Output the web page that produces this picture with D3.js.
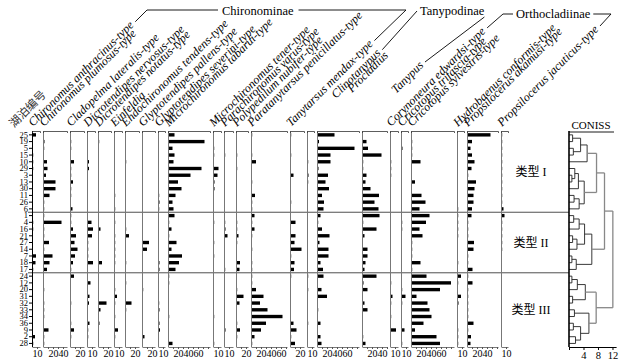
<!DOCTYPE html>
<html><head><meta charset="utf-8">
<script src="https://cdn.jsdelivr.net/npm/d3@7"></script>
<style>body{margin:0;background:#fff}svg{display:block}</style>
</head><body><svg id="c" width="635" height="364"></svg>
<script>
// ---------------- DATA ----------------
const lakes = ["25","19","5","15","10","29","3","13","30","11","26","6",
  "1","4","16","21","27","14","7","18","17",
  "24","12","20","31","32","33","34","36","9","2","28"];
const taxa = ["Chironomus anthracinus-type","Chironomus plumosus-type","Cladopelma lateralis-type",
  "Dicrotendipes nervosus-type","Dicrotendipes notatus-type","Einfeldia","Endochironomus tendens-type",
  "Glyptotendipes pallens-type","Glyptotendipes severini-type","Microchironomus tabarui-type",
  "Microchironomus tener-type","Parachironomus varus-type","Polypedilum nubifer-type",
  "Paratanytarsus penicillatus-type","Tanytarsus mendax-type","Clinotanypus","Procladius","Tanypus",
  "Corynoneura edwardsi-type","Cricotopus trifascia-type","Cricotopus sylvestris-type",
  "Hydrobaenus conformis-type","Propsilocerus akamusi-type","Propsilocerus jacuticus-type"];
const axisMax = [16,48,28,16,26,16,28,26,14,84,16,18,24,72,28,14,84,50,16,14,86,14,62,14];
const tickLabels = [[10],[20,40],[20],[10],[20],[10],[20],[20],[10],[20,40,60],[10],[10],[20],
  [20,40,60],[20],[10],[20,40,60],[20,40],[10],[10],[20,40,60],[10],[20,40],[10]];
const groups = [{name:"Chironominae",first:0,last:14},{name:"Tanypodinae",first:15,last:17},{name:"Orthocladiinae",first:18,last:23}];
const typeNames = ["类型 I","类型 II","类型 III"];
const typeStarts = [0,12,21];
const conissTicks = [0,4,8,12];

// relative abundance (%) per taxon, one value per lake (rows top to bottom)
const cAnthracinus = [8,0,0,1,2,2,0,0,0,0,0,0, 0,2,1,0,0,0,8,7,2, 0,0,0,0,0,0,0,0,0,6,1];
const cPlumosus    = [0,3,2,0,8,9,6,25,25,13,2,2, 1,37,2,2,12,2,19,13,8, 0,0,1,0,2,2,2,0,11,2,2];
const cladopelma   = [0,2,2,0,8,2,2,6,2,2,0,5, 2,2,6,12,9,15,10,6,2, 8,0,0,0,2,0,0,2,8,2,0];
const dNervosus    = [0,0,0,0,4,4,0,0,0,0,0,0, 0,9,12,10,2,2,2,12,0, 0,7,0,5,4,0,0,5,2,2,0];
const dNotatus     = [0,2,0,0,0,0,0,0,0,0,0,0, 0,0,5,0,0,0,0,8,0, 0,0,0,0,17,5,0,3,0,0,0];
const einfeldia    = [0,0,0,0,0,0,0,0,0,1,0,1, 0,1,0,1,1,1,1,1,0, 0,0,2,6,2,0,1,0,8,2,0];
const endochiro    = [0,0,0,0,2,0,0,0,0,0,0,0, 0,0,2,8,0,0,0,2,0, 0,2,0,0,13,2,0,0,0,0,0];
const gPallens     = [0,0,0,0,0,0,0,0,0,0,0,0, 0,0,0,0,14,10,0,0,0, 0,0,1,0,0,0,0,0,0,5,0];
const gSeverini    = [0,0,0,0,0,0,0,0,0,2,3,2, 0,0,0,0,0,0,0,3,3, 0,0,0,0,2,3,0,3,4,0,0];
const mTabarui     = [13,73,9,13,11,67,45,20,27,15,9,11, 13,1,7,1,17,7,28,22,15, 1,1,0,0,0,0,1,0,0,0,9];
const mTener       = [0,0,2,1,0,11,9,3,3,0,0,0, 0,1,0,0,2,0,2,0,0, 0,0,0,0,0,0,1,0,0,0,2];
const pVarus       = [0,0,0,1,0,0,0,0,0,0,0,0, 0,2,3,7,0,0,0,0,1, 0,0,0,0,0,0,0,0,3,0,0];
const polypedilum  = [0,0,0,2,0,1,0,0,0,0,0,0, 0,2,2,5,1,0,0,8,7, 0,0,1,15,7,0,0,2,8,2,0];
const paratany     = [1,0,0,1,10,0,0,1,0,8,1,1, 7,1,7,1,0,1,0,2,2, 1,1,10,25,18,33,63,30,20,7,1];
const tMendax      = [2,0,0,1,0,0,7,0,0,0,1,0, 0,11,0,11,9,23,2,9,8, 1,0,0,0,0,0,0,7,13,2,10];
const clinotany    = [0,0,0,0,2,0,3,2,0,0,0,0, 0,0,0,0,0,0,0,0,0, 2,0,2,0,0,0,0,2,0,0,0];
const procladius   = [35,4,75,27,27,3,22,17,24,10,14,13, 7,1,10,25,5,23,23,7,12, 13,0,9,20,0,2,0,7,0,7,9];
const tanypus      = [0,9,12,39,2,2,9,7,17,34,25,33, 35,1,29,5,0,11,11,7,5, 29,3,11,0,5,11,0,0,0,2,7];
const corynoneura  = [0,0,0,0,2,2,2,0,0,0,0,0, 0,0,0,0,0,0,0,0,0, 0,2,0,5,2,0,2,0,12,0,0];
const cTrifascia   = [0,0,3,0,0,0,0,0,0,0,0,0, 0,2,2,0,0,0,0,0,0, 0,0,2,9,2,0,0,0,7,0,2];
const cSylvestris  = [0,2,2,2,19,0,0,8,0,21,29,17, 37,30,17,23,2,2,2,19,2, 31,80,58,11,33,37,41,25,8,51,58];
const hydrobaenus  = [0,0,0,0,0,0,0,0,0,0,0,1, 1,1,1,1,0,0,0,1,0, 8,2,0,8,3,0,0,0,2,2,2];
const pAkamusi     = [47,10,7,10,15,9,2,18,15,13,13,10, 9,2,2,2,14,13,2,2,11, 2,11,2,2,2,2,2,13,2,8,7];
const pJacuticus   = [1,1,1,1,1,1,1,1,1,1,1,5, 7,1,1,1,1,1,0,0,0, 0,0,0,0,0,0,0,0,0,0,0];
const series = [cAnthracinus,cPlumosus,cladopelma,dNervosus,dNotatus,einfeldia,endochiro,gPallens,
  gSeverini,mTabarui,mTener,pVarus,polypedilum,paratany,tMendax,clinotany,procladius,tanypus,
  corynoneura,cTrifascia,cSylvestris,hydrobaenus,pAkamusi,pJacuticus];

// CONISS clustering (height, children); leaves = row indices
const n = (h, c) => ({h, c});
const coniss = n(12.1, [
  n(9.8, [
    n(7.6, [ n(5.0, [ n(3.2, [n(1.0,[0,1]), n(1.2,[2,3])]), 4 ]),
             n(4.2, [ n(2.6, [n(1.6,[5, n(0.8,[6,7])]), 8]), n(2.8, [n(1.4,[9,10]), 11]) ]) ]),
    n(6.3, [ n(4.3, [ n(2.8,[n(1.3,[12,13]),14]), n(2.2,[n(1.0,[15,16]),17]) ]),
             n(2.0, [n(0.8,[18,19]),20]) ])
  ]),
  n(7.5, [ n(4.5, [ n(2.3,[n(0.8,[21,22]),23]), n(1.0,[24,25]) ]),
           n(5.5, [ n(1.5,[26,27]), n(3.2,[n(1.2,[28,29]), n(1.8,[30,31])]) ]) ])
]);

// ---------------- LAYOUT ----------------
const SERIF = "'Liberation Serif','Times New Roman',serif";
const CJK = "'Liberation Serif','Noto Sans CJK SC',serif";
const K = 0.5, X0 = 32, GAP = 3, TOP = 131, BOTTOM = 347;
const labelLift = {15: 28, 16: 34, 17: 33};

const svg = d3.select("#c");
const y = d3.scaleBand().domain(d3.range(lakes.length)).range([131.5, 346.8]).paddingInner(0.5).paddingOuter(0.25);
const bw = y.bandwidth();
const yc = i => y(i) + bw / 2;

let cur = X0;
const xs = axisMax.map(m => {
  const s = d3.scaleLinear().domain([0, m]).range([cur, cur + m * K]);
  cur += m * K + GAP;
  return s;
});

// separator lines between types
const sepG = svg.append("g");
typeStarts.slice(1).forEach(s => {
  const yy = (yc(s - 1) + yc(s)) / 2;
  sepG.append("line").attr("x1", 28).attr("x2", 569).attr("y1", yy).attr("y2", yy)
    .attr("stroke", "#222").attr("stroke-width", 0.8);
});

// columns
series.forEach((vals, i) => {
  const x = xs[i];
  const g = svg.append("g");
  const x0 = x.range()[0];
  g.selectAll("rect").data(vals.map((v, r) => ({v, r})).filter(d => d.v > 0)).join("rect")
    .attr("x", x0).attr("y", d => y(d.r)).attr("height", bw)
    .attr("width", d => Math.max(1.2, x(d.v) - x0)).attr("fill", "#000");
  g.append("line").attr("x1", x0 + 0.5).attr("x2", x0 + 0.5).attr("y1", TOP).attr("y2", BOTTOM)
    .attr("stroke", i === 0 ? "#000" : "#777").attr("stroke-width", 1);
  const top = g.append("g").attr("transform", `translate(0,${TOP})`)
    .call(d3.axisTop(x).tickValues([]).tickSizeOuter(-2));
  top.select(".domain").attr("stroke", "#333").attr("stroke-width", 0.8);
  const minor = d3.range(10, axisMax[i] + 0.01, 10);
  const bot = g.append("g").attr("transform", `translate(0,${BOTTOM})`)
    .call(d3.axisBottom(x).tickValues(minor).tickSize(2).tickSizeOuter(0).tickPadding(1)
      .tickFormat(d => tickLabels[i].includes(d) ? d : ""));
  bot.select(".domain").attr("stroke", "#555").attr("stroke-width", 0.8);
  bot.selectAll(".tick line").attr("stroke", "#555");
  bot.selectAll("text").attr("font-family", SERIF).attr("font-size", 10).attr("fill", "#000");
});

// lake number axis
const la = svg.append("g").attr("transform", `translate(${X0},0)`)
  .call(d3.axisLeft(y).tickFormat(i => lakes[i]).tickSize(3).tickSizeOuter(0).tickPadding(1));
la.select(".domain").remove();
la.selectAll("text").attr("font-family", SERIF).attr("font-size", 8.5).attr("fill", "#000");

// header labels
const hdr = svg.append("g").attr("font-family", SERIF).attr("font-size", 12).attr("font-style", "italic");
const ends = [];
taxa.forEach((t, i) => {
  const s = labelLift[i] || 0;
  const ax = xs[i].range()[0] + 1 + s, ay = 127 - s;
  const txt = hdr.append("text").attr("transform", `translate(${ax},${ay}) rotate(-45)`).text(t);
  const L = txt.node().getComputedTextLength();
  ends.push([ax + L * Math.SQRT1_2 + 1, ay - L * Math.SQRT1_2 - 4]);
});
svg.append("text").attr("transform", "translate(14,128) rotate(-45)")
  .attr("font-family", CJK).attr("font-size", 11.5).attr("fill", "#333").text("湖泊编号");

// subfamily brackets
const gb = svg.append("g").attr("font-family", SERIF).attr("font-size", 12.5);
const line = d3.line();
const br = (pts) => gb.append("path").attr("d", line(pts)).attr("fill", "none").attr("stroke", "#000").attr("stroke-width", 0.9);
{
  const g0 = groups[0];
  const t = gb.append("text").attr("x", 222).attr("y", 15).text(g0.name);
  const w = t.node().getComputedTextLength();
  const e0 = ends[g0.first], e1 = ends[g0.last];
  br([e0, [e0[0] + (e0[1] - 10), 10], [218, 10]]);
  br([[222 + w + 5, 10], [406, 10], e1]);
}
{
  const g1 = groups[1];
  const t = gb.append("text").attr("x", 420).attr("y", 15).text(g1.name);
  const w = t.node().getComputedTextLength();
  br([ends[g1.first], [417, 11]]);
  br([[420 + w, 17], ends[g1.last]]);
}
{
  const g2 = groups[2];
  const t = gb.append("text").attr("x", 516).attr("y", 18).text(g2.name);
  const w = t.node().getComputedTextLength();
  br([ends[g2.first], [503, 14], [513, 14]]);
  br([[516 + w + 3, 14], [611, 14], ends[g2.last]]);
}

// type labels
const typeG = svg.append("g").attr("font-family", CJK).attr("font-size", 12).attr("text-anchor", "middle");
typeNames.forEach((nm, k) => {
  const a = typeStarts[k], b = (typeStarts[k + 1] || lakes.length) - 1;
  typeG.append("text").attr("x", 531).attr("y", (yc(a) + yc(b)) / 2 + 4).text(nm);
});

// CONISS
const xC = d3.scaleLinear().domain([0, 13]).range([569, 616.1]);
const cg = svg.append("g");
function drawNode(node) {
  if (typeof node === "number") return {y: yc(node), h: 0};
  const kids = node.c.map(drawNode);
  const xh = xC(node.h);
  const col = node.h >= 7 ? "#888" : "#222";
  const sw = node.h >= 7 ? 1.3 : 0.9;
  kids.forEach(k => cg.append("line").attr("x1", xC(k.h)).attr("x2", xh).attr("y1", k.y).attr("y2", k.y)
    .attr("stroke", col).attr("stroke-width", sw));
  cg.append("line").attr("x1", xh).attr("x2", xh).attr("y1", kids[0].y).attr("y2", kids[kids.length - 1].y)
    .attr("stroke", col).attr("stroke-width", sw);
  return {y: (kids[0].y + kids[kids.length - 1].y) / 2, h: node.h};
}
drawNode(coniss);
svg.append("line").attr("x1", 569).attr("x2", 569).attr("y1", TOP).attr("y2", BOTTOM).attr("stroke", "#000").attr("stroke-width", 1.6);
svg.append("line").attr("x1", 569).attr("x2", 614).attr("y1", 132).attr("y2", 132).attr("stroke", "#000").attr("stroke-width", 0.9);
svg.append("text").attr("x", 591).attr("y", 129).attr("text-anchor", "middle").attr("font-family", SERIF).attr("font-size", 11).text("CONISS");
const ca = svg.append("g").attr("transform", `translate(0,${BOTTOM})`)
  .call(d3.axisBottom(xC).tickValues(conissTicks).tickSize(3).tickSizeOuter(0).tickPadding(2).tickFormat(d => d ? d : ""));
ca.select(".domain").attr("stroke", "#000").attr("stroke-width", 1.2);
ca.selectAll("text").attr("font-family", SERIF).attr("font-size", 10.5).attr("fill", "#000");
</script></body></html>
